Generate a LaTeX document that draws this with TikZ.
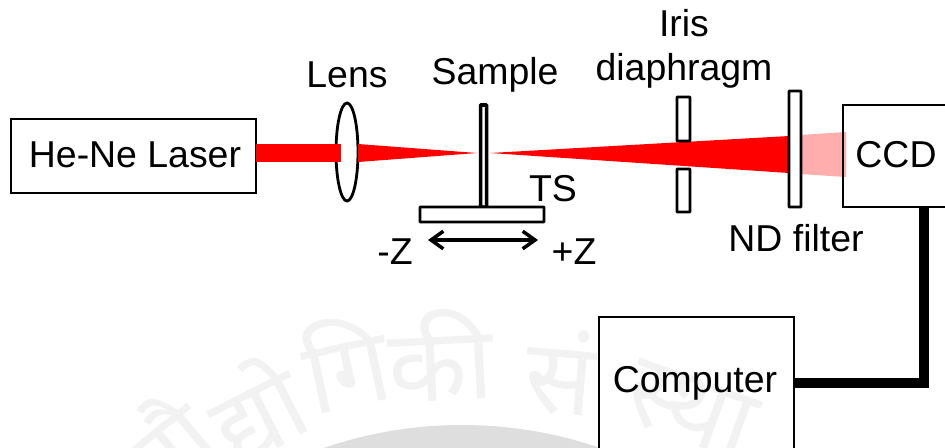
\documentclass[tikz,border=0pt]{standalone}
\usepackage{fontspec}
\setmainfont{Liberation Sans}
\newfontfamily\devafont[Script=Devanagari]{Noto Sans}
\usetikzlibrary{arrows.meta}

\begin{document}
\begin{tikzpicture}[
    x=0.02cm, y=-0.02cm,
    % Dobozok es feliratok
    box/.style={draw=black, line width=1.6pt, fill=white, inner sep=0pt},
    optic/.style={draw=black, line width=1.6pt, fill=white, rounded corners=0.4pt},
    lbl/.style={font=\fontsize{21.3}{25}\selectfont, inner sep=0pt},
    wmark/.style={font=\devafont\fontsize{58}{66}\selectfont, text=black!5, inner sep=0pt},
    wire/.style={draw=black, line width=5.9pt},
    beam/.style={fill=red},
]

    % Kepmeret
    \clip (0,0) rectangle (945,447);
    \fill[white] (0,0) rectangle (945,447);

    % Vizjel
    \fill[black!13] (462,850) ellipse (425 and 425);
    \node[wmark, rotate=40] (wm0) at (165,445) {प्रौ};
    \node[wmark, rotate=27] (wm1) at (255,408) {द्यो};
    \node[wmark, rotate=12] (wm2) at (345,362) {गि};
    \node[wmark, rotate=3] (wm3) at (440,355) {की};

    % Lezer, lencse
    \node[box, minimum width=245*0.02cm, minimum height=74*0.02cm] (laser) at (133.5,156) {};
    \node[lbl] (laserlbl) at (135,155) {He-Ne Laser};
    \draw[optic] (347,152) ellipse (11 and 49);
    \node[lbl] (lens) at (347,75) {Lens};

    % Nyalab
    \fill[beam] (256,144) rectangle (341,162);
    \fill[beam] (358,144) -- (477,153) -- (358,162) -- cycle;
    \fill[beam] (490,153) -- (789,136) -- (789,173) -- cycle;
    \fill[red!32] (800,135) -- (846,132) -- (846,177) -- (800,174) -- cycle;

    % Minta es eltolo asztal
    \draw[optic, line width=2pt] (480.5,105) rectangle (486.5,207);
    \draw[optic] (420,207) rectangle (544,222);
    \node[lbl] (sample) at (495,75) {Sample};
    \node[lbl] (ts) at (553,189) {TS};
    \node[lbl] (minusz) at (395,252) {-Z};
    \node[lbl] (plusz) at (574,252) {+Z};
    \coordinate (zleft) at (428,240);
    \coordinate (zright) at (538,240);
    \draw[line width=2pt, {Straight Barb[length=7pt,width=10pt]}-{Straight Barb[length=7pt,width=10pt]}] (zleft) -- (zright);

    % Irisz
    \draw[optic] (677,97) rectangle (690,141);
    \draw[optic] (677,169) rectangle (690,212);
    \node[lbl] (iris) at (684,23) {Iris};
    \node[lbl] (diaphragm) at (684,71) {diaphragm};

    % ND szuro
    \draw[optic] (789,91) rectangle (801,207);
    \node[lbl] (ndfilter) at (796,238) {ND filter};

    % CCD es szamitogep
    \node[box, fill=none, minimum width=162*0.02cm, minimum height=102*0.02cm] (ccd) at (924,156) {};
    \node[lbl] (ccdlbl) at (896,155) {CCD};
    \node[box, minimum width=195*0.02cm, minimum height=132*0.02cm] (computer) at (696.5,383) {};
    \node[wmark, rotate=-5] (wm4) at (560,372) {सं};
    \node[wmark, rotate=-20] (wm5) at (690,410) {स्था};
    \node[lbl] (computerlbl) at (695,383) {Computer};
    \draw[wire] (ccd.south) |- (computer.east);
\end{tikzpicture}
\end{document}
